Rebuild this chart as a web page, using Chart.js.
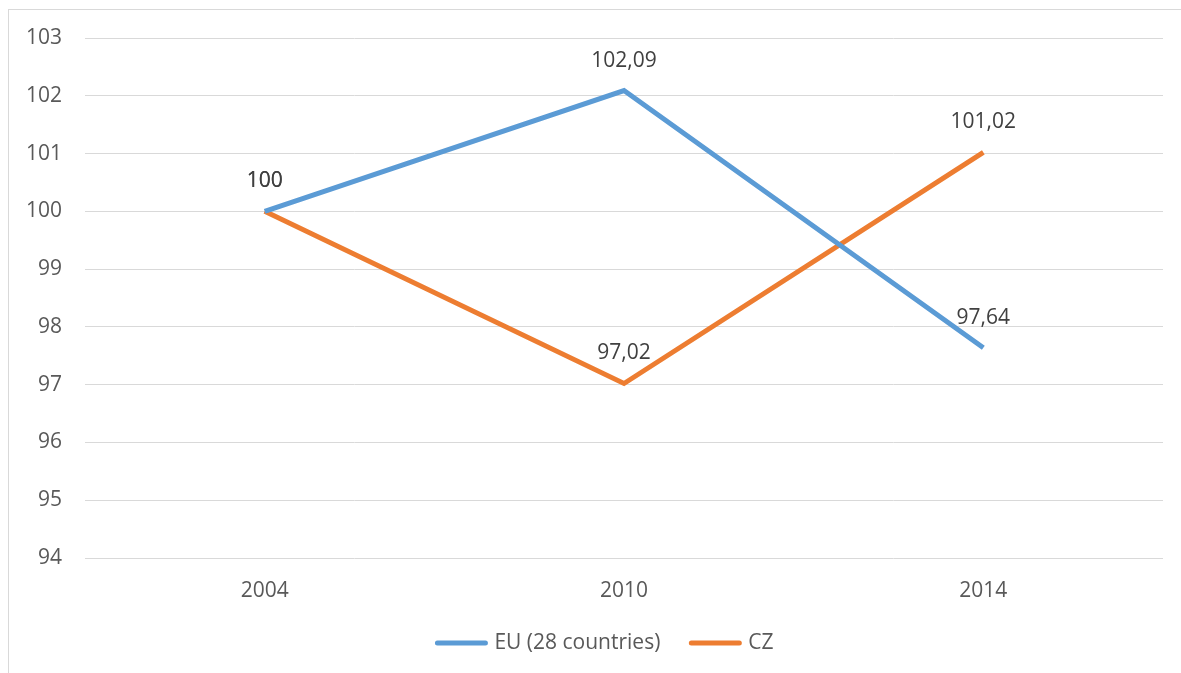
<!DOCTYPE html>
<html>
<head>
<meta charset="utf-8">
<script src="https://cdn.jsdelivr.net/npm/chart.js@4"></script>
<style>
  body { margin: 0; background: #fff; }
  #wrap { position: relative; width: 1181px; height: 673px; overflow: hidden; }
  #frame {
    position: absolute; left: 8px; top: 9px; width: 1200px; height: 700px;
    border-top: 1px solid #d9d9d9; border-left: 1px solid #d9d9d9;
  }
  canvas { position: absolute; left: 0; top: 0; }
</style>
</head>
<body>
<div id="wrap">
  <div id="frame"></div>
  <canvas id="chart" width="1181" height="673"></canvas>
</div>
<script>
// data
const years = ["2004", "2010", "2014"];
const euValues = [100, 102.09, 97.64];
const czValues = [100, 97.02, 101.02];
const seriesNames = ["EU (28 countries)", "CZ"];
const yMin = 94;
const yMax = 103;

const blue = "#5B9BD5";
const orange = "#ED7D31";
const textGray = "#595959";
const fontFamily = "'Open Sans'";

const fmt = (v) => String(v).replace(".", ",");

// value labels above each point
const valueLabels = {
  id: "valueLabels",
  afterDatasetsDraw(chart) {
    const ctx = chart.ctx;
    ctx.save();
    ctx.font = "21px " + fontFamily;
    ctx.fillStyle = "#404040";
    ctx.textAlign = "center";
    ctx.textBaseline = "middle";
    chart.data.datasets.forEach((ds, i) => {
      chart.getDatasetMeta(i).data.forEach((pt, j) => {
        ctx.fillText(fmt(ds.data[j]), pt.x, pt.y - 30);
      });
    });
    ctx.restore();
  }
};

// legend drawn under the axis, line samples with round ends
const lineLegend = {
  id: "lineLegend",
  afterDraw(chart) {
    const ctx = chart.ctx;
    const y = 643, lineLen = 54, gapText = 6, gapItem = 28;
    ctx.save();
    ctx.font = "21px " + fontFamily;
    const items = chart.data.datasets.map((ds) => ({
      text: ds.label, color: ds.borderColor, w: ctx.measureText(ds.label).width
    }));
    let total = items.reduce((s, it) => s + lineLen + gapText + it.w, 0) + gapItem * (items.length - 1);
    let x = 604 - total / 2;
    items.forEach((it) => {
      ctx.strokeStyle = it.color;
      ctx.lineWidth = 5;
      ctx.lineCap = "round";
      ctx.beginPath();
      ctx.moveTo(x + 3, y);
      ctx.lineTo(x + lineLen - 3, y);
      ctx.stroke();
      ctx.fillStyle = textGray;
      ctx.textAlign = "left";
      ctx.textBaseline = "middle";
      ctx.fillText(it.text, x + lineLen + gapText, y);
      x += lineLen + gapText + it.w + gapItem;
    });
    ctx.restore();
  }
};

new Chart(document.getElementById("chart"), {
  type: "line",
  data: {
    labels: years,
    datasets: [
      {
        label: seriesNames[0],
        data: euValues,
        borderColor: blue,
        backgroundColor: blue,
        borderWidth: 5,
        pointRadius: 0,
        tension: 0,
      },
      {
        label: seriesNames[1],
        data: czValues,
        borderColor: orange,
        backgroundColor: orange,
        borderWidth: 5,
        pointRadius: 0,
        tension: 0,
      },
    ],
  },
  options: {
    responsive: false,
    animation: false,
    layout: { padding: { top: 38, right: 18, left: 0, bottom: 0 } },
    plugins: {
      tooltip: { enabled: false },
      legend: { display: false },
    },
    scales: {
      x: {
        offset: true,
        grid: { display: false },
        border: { display: false },
        ticks: {
          color: textGray,
          font: { family: fontFamily, size: 21 },
          padding: 12,
        },
        afterFit(scale) { scale.height = 115; },
      },
      y: {
        min: yMin,
        max: yMax,
        grid: { color: "#d9d9d9", lineWidth: 1, drawTicks: false },
        border: { display: false },
        ticks: {
          stepSize: 1,
          color: textGray,
          font: { family: fontFamily, size: 21 },
          padding: 23,
        },
        afterFit(scale) { scale.width = 85; },
      },
    },
  },
  plugins: [valueLabels, lineLegend],
});
</script>
</body>
</html>
